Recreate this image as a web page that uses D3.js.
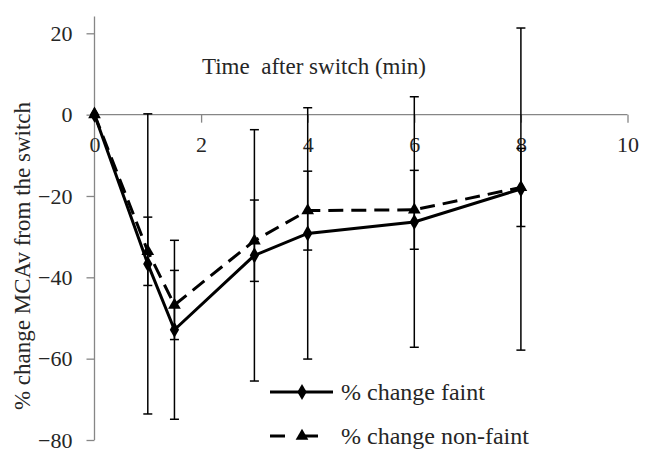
<!DOCTYPE html>
<html>
<head>
<meta charset="utf-8">
<script src="https://cdn.jsdelivr.net/npm/d3@7"></script>
<style>
  body { margin: 0; background: #fff; }
  svg text { font-family: "Liberation Serif", "Tinos", "DejaVu Serif", "Times New Roman", serif !important; fill: #262626; }
</style>
</head>
<body>
<script>
// chart data
var times = [0, 1, 1.5, 3, 4, 6, 8];
var faint = [0, -36.7, -52.9, -34.6, -29.2, -26.4, -18.3];
var faintErr = [0, 36.9, 22, 30.9, 30.9, 30.8, 39.6];
var nonFaint = [0, -33.6, -46.8, -31, -23.6, -23.4, -17.9];
var nonFaintErr = [0, 8.4, 8.5, 10, 9.7, 9.7, 9.6];
var xTicks = [0, 2, 4, 6, 8, 10];
var yTicks = [20, 0, -20, -40, -60, -80];
var seriesNames = ["% change faint", "% change non-faint"];

var width = 648,
    height = 475;

var svg = d3.select("body").append("svg")
    .attr("width", width)
    .attr("height", height);

var x = d3.scaleLinear().domain([0, 10]).range([94.5, 627.5]);
var y = d3.scaleLinear().domain([-80, 20]).range([440, 33.3]);

var axisColor = "#868686";

// y axis
var yAxis = svg.append("g")
    .attr("transform", "translate(" + x(0) + ",0)")
    .call(d3.axisLeft(y).tickValues(yTicks).tickSize(8).tickSizeOuter(0).tickPadding(14));
yAxis.select(".domain").remove();
yAxis.selectAll(".tick line").attr("stroke", axisColor).attr("stroke-width", 1.3);
yAxis.selectAll(".tick text").style("font-size", "22px");
yAxis.append("line")
    .attr("y1", y(-80)).attr("y2", 16.5)
    .attr("stroke", axisColor).attr("stroke-width", 1.3);

// x axis sits at y = 0
var xAxis = svg.append("g")
    .attr("transform", "translate(0," + y(0) + ")")
    .call(d3.axisBottom(x).tickValues(xTicks).tickSize(8).tickSizeOuter(0).tickPadding(14));
xAxis.select(".domain").attr("d", "M" + x(0) + ",0H" + x(10)).attr("stroke", axisColor).attr("stroke-width", 1.3);
xAxis.selectAll(".tick line").attr("stroke", axisColor).attr("stroke-width", 1.3);
xAxis.selectAll(".tick").filter(function(d) { return d === 0; }).select("line").remove();
xAxis.selectAll(".tick text").style("font-size", "22px");

// axis titles
svg.append("text")
    .attr("x", 314).attr("y", 74)
    .attr("text-anchor", "middle")
    .style("font-size", "23px")
    .style("white-space", "pre")
    .text("Time  after switch (min)");

svg.append("text")
    .attr("transform", "translate(30,256) rotate(-90)")
    .attr("text-anchor", "middle")
    .style("font-size", "23px")
    .text("% change MCAv from the switch");

// error bars
function errorBars(means, errs) {
  var g = svg.append("g").attr("stroke", "#000").attr("stroke-width", 1.5);
  times.forEach(function(t, i) {
    if (!errs[i]) return;
    var hi = y(means[i] + errs[i]), lo = y(means[i] - errs[i]);
    g.append("line").attr("x1", x(t)).attr("x2", x(t)).attr("y1", hi).attr("y2", lo);
    g.append("line").attr("x1", x(t) - 4.5).attr("x2", x(t) + 4.5).attr("y1", hi).attr("y2", hi);
    g.append("line").attr("x1", x(t) - 4.5).attr("x2", x(t) + 4.5).attr("y1", lo).attr("y2", lo);
  });
}
errorBars(faint, faintErr);
errorBars(nonFaint, nonFaintErr);

var line = d3.line()
    .x(function(d, i) { return x(times[i]); })
    .y(function(d) { return y(d); });

var diamond = d3.symbol().type(d3.symbolDiamond).size(75);
var triangle = d3.symbol().type(d3.symbolTriangle).size(70);

// non-faint (dashed, triangles)
svg.append("path")
    .datum(nonFaint)
    .attr("d", line)
    .attr("fill", "none")
    .attr("stroke", "#000")
    .attr("stroke-width", 3)
    .attr("stroke-dasharray", "15,8");

svg.selectAll(".tri")
    .data(nonFaint)
  .enter().append("path")
    .attr("class", "tri")
    .attr("transform", function(d, i) { return "translate(" + x(times[i]) + "," + y(d) + ")"; })
    .attr("d", triangle)
    .attr("fill", "#000");

// faint (solid, diamonds)
svg.append("path")
    .datum(faint)
    .attr("d", line)
    .attr("fill", "none")
    .attr("stroke", "#000")
    .attr("stroke-width", 3);

svg.selectAll(".dia")
    .data(faint)
  .enter().append("path")
    .attr("class", "dia")
    .attr("transform", function(d, i) { return "translate(" + x(times[i]) + "," + y(d) + ")"; })
    .attr("d", diamond)
    .attr("fill", "#000");

// legend
var legend = svg.append("g");
var rows = [392, 436];
seriesNames.forEach(function(name, i) {
  var ly = rows[i];
  legend.append("line")
      .attr("x1", 270).attr("x2", 333).attr("y1", ly).attr("y2", ly)
      .attr("stroke", "#000").attr("stroke-width", 3)
      .attr("stroke-dasharray", i === 1 ? "15,18" : null);
  legend.append("path")
      .attr("transform", "translate(302," + ly + ")")
      .attr("d", i === 0 ? diamond : triangle)
      .attr("fill", "#000");
  legend.append("text")
      .attr("x", 341).attr("y", ly + 8)
      .style("font-size", "24px")
      .text(name);
});
</script>
</body>
</html>
